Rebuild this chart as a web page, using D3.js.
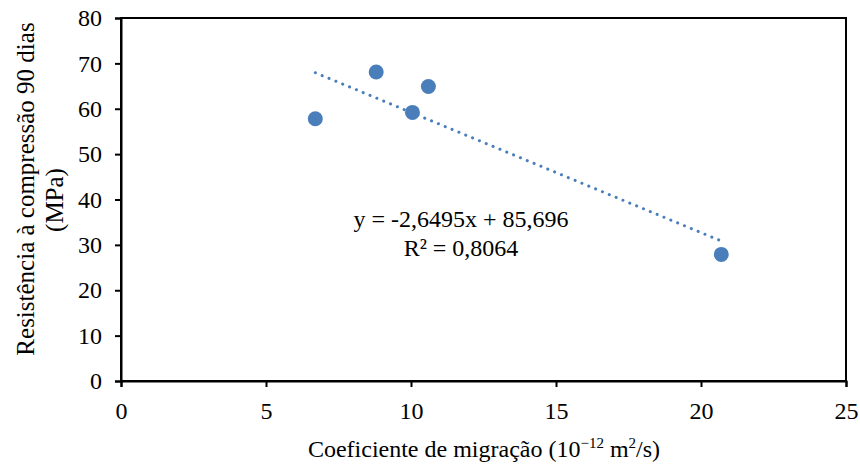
<!DOCTYPE html>
<html lang="pt">
<head>
<meta charset="UTF-8">
<title>Resistência vs coeficiente de migração</title>
<script src="https://cdnjs.cloudflare.com/ajax/libs/d3/7.8.2/d3.min.js"></script>
<style>
  body { margin: 0; background: #fff; }
  svg text { font-family: "Liberation Serif", "Times New Roman", "DejaVu Serif", serif; fill: #000; }
</style>
</head>
<body>
<div id="chart"></div>
<script>
// data
const migracao = [6.7, 8.8, 10.05, 10.6, 20.7];
const resistencia = [57.8, 68.1, 59.2, 64.9, 27.9];
const xTicks = [0, 5, 10, 15, 20, 25];
const yTicks = [0, 10, 20, 30, 40, 50, 60, 70, 80];
const trend = { slope: -2.6495, intercept: 85.696 };
const eqLines = ["y = -2,6495x + 85,696", "R² = 0,8064"];

const width = 860, height = 464;
const margin = { top: 18, right: 14, bottom: 83, left: 121 };
const fontSize = 24;

const svg = d3.select("#chart").append("svg")
    .attr("width", width)
    .attr("height", height);

const x = d3.scaleLinear().domain([0, 25]).range([margin.left, width - margin.right]);
const y = d3.scaleLinear().domain([0, 80]).range([height - margin.bottom, margin.top]);

// frame round the plot area
svg.append("rect")
    .attr("x", x(0)).attr("y", y(80))
    .attr("width", x(25) - x(0)).attr("height", y(0) - y(80))
    .attr("fill", "none").attr("stroke", "#000").attr("stroke-width", 2);

const xAxis = svg.append("g")
    .attr("transform", `translate(0,${y(0)})`)
    .call(d3.axisBottom(x).tickValues(xTicks).tickSize(6).tickPadding(15).tickFormat(d3.format("d")));
const yAxis = svg.append("g")
    .attr("transform", `translate(${x(0)},0)`)
    .call(d3.axisLeft(y).tickValues(yTicks).tickSize(6).tickPadding(13).tickFormat(d3.format("d")));

[xAxis, yAxis].forEach(g => {
    g.attr("font-size", fontSize).attr("font-family", "Liberation Serif");
    g.select(".domain").attr("stroke", "#000").attr("stroke-width", 2);
    g.selectAll(".tick line").attr("stroke", "#000").attr("stroke-width", 2);
});

// trendline
const xMin = d3.min(migracao), xMax = d3.max(migracao);
svg.append("line")
    .attr("x1", x(xMin)).attr("y1", y(trend.slope * xMin + trend.intercept))
    .attr("x2", x(xMax)).attr("y2", y(trend.slope * xMax + trend.intercept))
    .attr("stroke", "#4a7ebb").attr("stroke-width", 3)
    .attr("stroke-linecap", "round").attr("stroke-dasharray", "0.1 7.3");

// points
svg.append("g").selectAll("circle")
    .data(migracao.map((m, i) => [m, resistencia[i]]))
    .join("circle")
    .attr("cx", d => x(d[0])).attr("cy", d => y(d[1]))
    .attr("r", 7.5).attr("fill", "#4a7ebb");

// equation
svg.append("g").selectAll("text")
    .data(eqLines)
    .join("text")
    .attr("x", 461).attr("y", (d, i) => 227 + i * 29)
    .attr("text-anchor", "middle").attr("font-size", fontSize)
    .text(d => d);

// x title
const xt = svg.append("text")
    .attr("x", 484).attr("y", 457)
    .attr("text-anchor", "middle").attr("font-size", fontSize);
xt.append("tspan").text("Coeficiente de migração (10");
xt.append("tspan").attr("font-size", 15).attr("dy", -9).text("−12");
xt.append("tspan").attr("dy", 9).text(" m");
xt.append("tspan").attr("font-size", 15).attr("dy", -9).text("2");
xt.append("tspan").attr("dy", 9).text("/s)");

// y title, two lines
svg.append("text")
    .attr("transform", "translate(34,189) rotate(-90)")
    .attr("text-anchor", "middle").attr("font-size", 25)
    .text("Resistência à compressão 90 dias");
svg.append("text")
    .attr("transform", "translate(63,200) rotate(-90)")
    .attr("text-anchor", "middle").attr("font-size", 25)
    .text("(MPa)");
</script>
</body>
</html>
